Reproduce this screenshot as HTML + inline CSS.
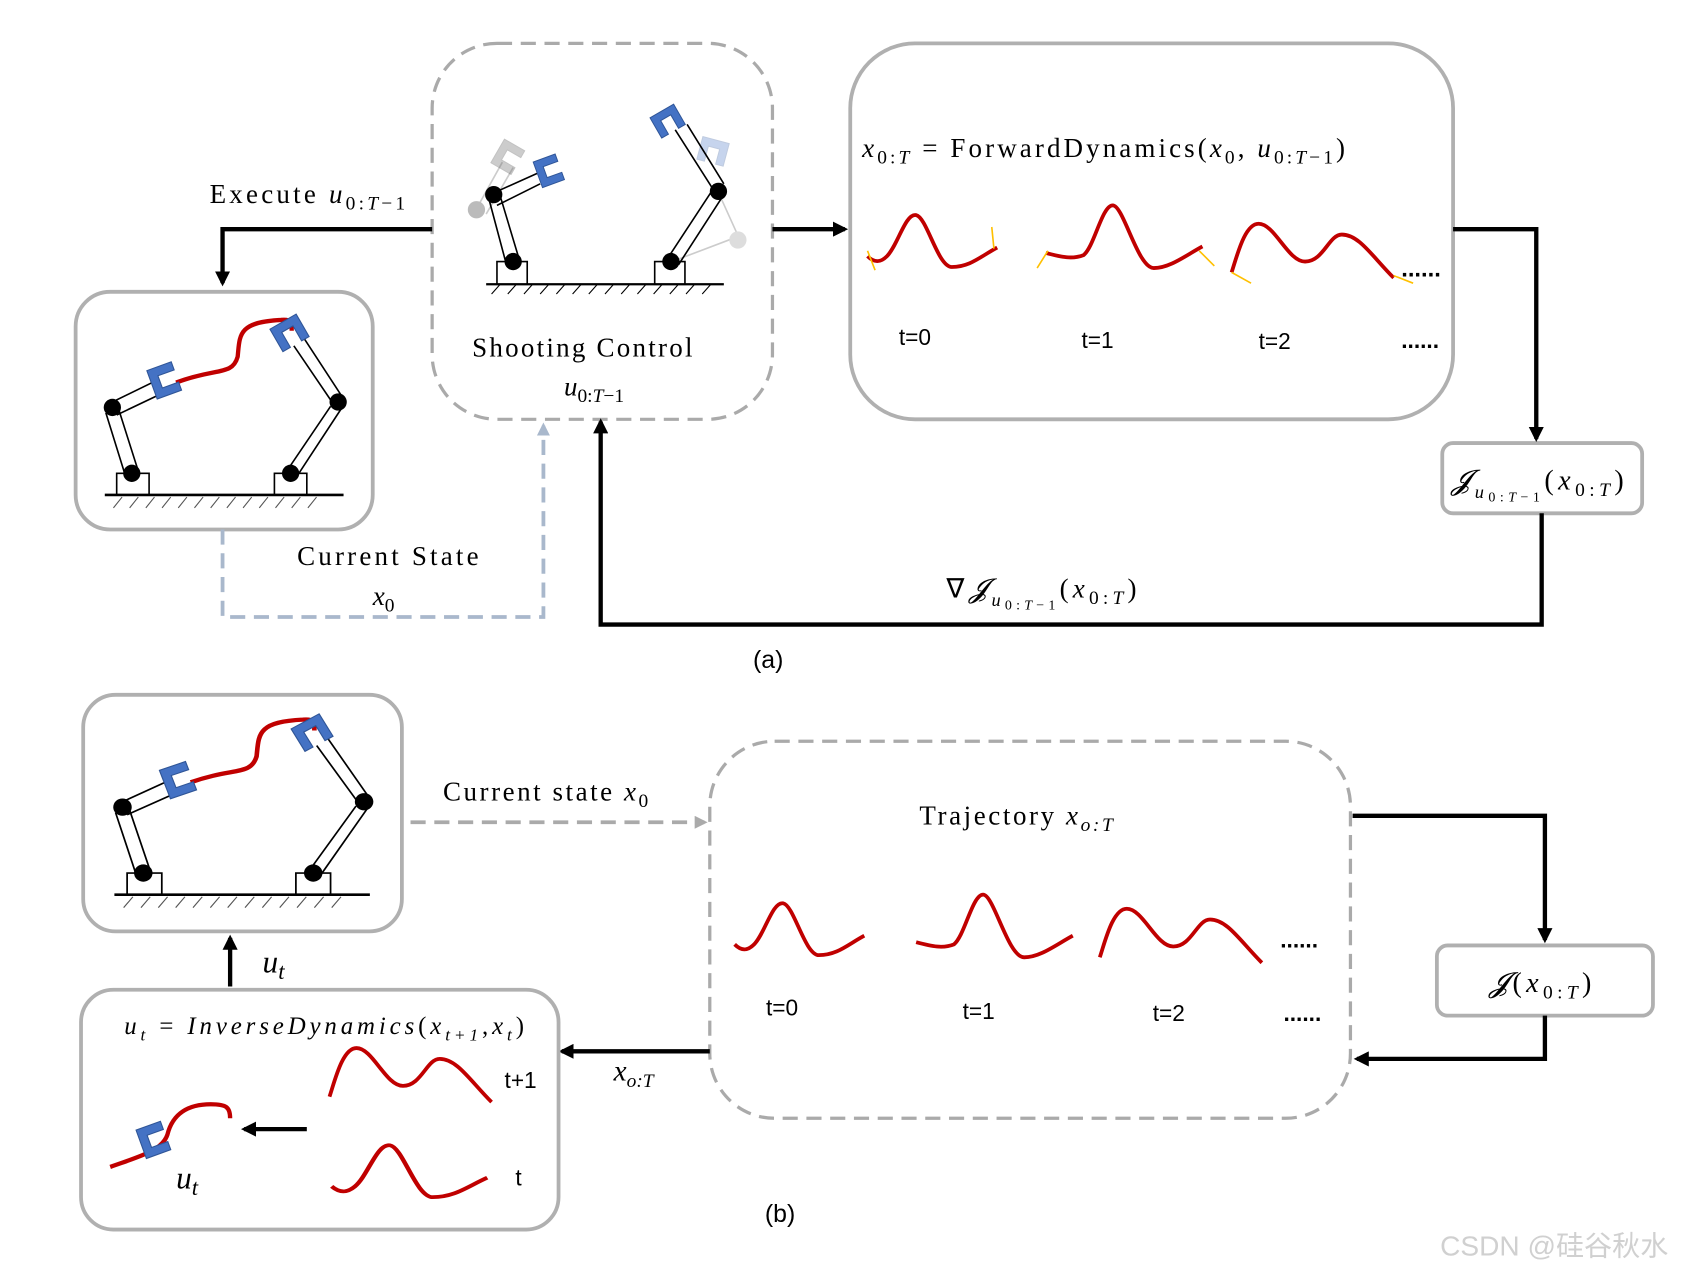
<!DOCTYPE html>
<html><head><meta charset="utf-8"><style>html,body{margin:0;padding:0;background:#fff}svg{display:block}</style></head>
<body>
<svg width="1694" height="1274" viewBox="0 0 1568 1179" xmlns="http://www.w3.org/2000/svg" font-family="Liberation Serif, serif">
<defs>
<marker id="ah" markerWidth="14" markerHeight="14" refX="11" refY="7" orient="auto" markerUnits="userSpaceOnUse"><path d="M0,0 L14,7 L0,14 z" fill="#000"/></marker>
<marker id="ahb" markerWidth="12" markerHeight="12" refX="9" refY="6" orient="auto" markerUnits="userSpaceOnUse"><path d="M0,0 L12,6 L0,12 z" fill="#a9b8cc"/></marker>
<marker id="ahg" markerWidth="12" markerHeight="12" refX="9" refY="6" orient="auto" markerUnits="userSpaceOnUse"><path d="M0,0 L12,6 L0,12 z" fill="#aaa"/></marker>
<g id="grip"><path d="M-14,-12 L14,-12 L14,12 L6,12 L6,-4 L-6,-4 L-6,12 L-14,12 z" fill="#4472c4" stroke="#2f5597" stroke-width="1"/></g>
<g id="scene">
 <line x1="27" y1="188" x2="248" y2="188" stroke="#000" stroke-width="2.5"/>
 <g stroke="#555" stroke-width="1">
  <path d="M35,200 l8,-10 M50,200 l8,-10 M65,200 l8,-10 M80,200 l8,-10 M95,200 l8,-10 M110,200 l8,-10 M125,200 l8,-10 M140,200 l8,-10 M155,200 l8,-10 M170,200 l8,-10 M185,200 l8,-10 M200,200 l8,-10 M215,200 l8,-10"/>
 </g>
 <rect x="38" y="168" width="30" height="20" fill="none" stroke="#000" stroke-width="1.5"/>
 <rect x="184" y="168" width="30" height="20" fill="none" stroke="#000" stroke-width="1.5"/>
 <g stroke="#000" stroke-width="1.5" fill="none">
  <path d="M28,112 L46,170 M39,106 L58,166"/>
  <path d="M34,102 L75,82 M38,114 L80,94"/>
  <path d="M194,168 L236,106 M204,172 L246,108"/>
  <path d="M236,100 L202,50 M246,96 L212,44"/>
 </g>
 <path d="M93,84 C130,70 145,78 150,60 C152,40 150,28 190,26 C200,25 200,28 200,36" fill="none" stroke="#c00000" stroke-width="4"/>
 <use href="#grip" transform="translate(82,82) rotate(-110)"/>
 <use href="#grip" transform="translate(198,38) rotate(-30)"/>
 <circle cx="34" cy="107" r="8" fill="#000"/>
 <circle cx="52" cy="168" r="8" fill="#000"/>
 <circle cx="199" cy="168" r="8" fill="#000"/>
 <circle cx="243" cy="102" r="8" fill="#000"/>
</g>
<path id="w0" d="M0,10 C8,18 14,14 18,10 C28,0 35,-30 45,-28 C55,-26 65,20 78,20 C95,20 105,10 120,2" fill="none" stroke="#c00000" stroke-width="3.5"/>
<path id="w1" d="M0,6 C15,10 25,12 35,8 C45,0 52,-38 62,-38 C72,-38 85,20 100,20 C115,20 130,8 145,0" fill="none" stroke="#c00000" stroke-width="3.5"/>
<path id="w2" d="M0,20 C5,5 12,-25 25,-25 C40,-25 52,10 68,10 C85,10 90,-15 102,-15 C118,-15 130,5 150,25" fill="none" stroke="#c00000" stroke-width="3.5"/>
</defs>

<!-- (a) -->
<rect x="70" y="270" width="275" height="220" rx="32" fill="none" stroke="#b0b0b0" stroke-width="3.5"/>
<use href="#scene" transform="translate(70,270)"/>

<rect x="400" y="40" width="315" height="348" rx="60" fill="none" stroke="#aaa" stroke-width="3" stroke-dasharray="14,8"/>
<g stroke="#000" stroke-width="2">
 <line x1="450" y1="263" x2="670" y2="263"/>
 <path d="M455,272 l8,-9 M470,272 l8,-9 M485,272 l8,-9 M500,272 l8,-9 M515,272 l8,-9 M530,272 l8,-9 M545,272 l8,-9 M560,272 l8,-9 M575,272 l8,-9 M590,272 l8,-9 M605,272 l8,-9 M620,272 l8,-9 M635,272 l8,-9 M650,272 l8,-9" stroke-width="1"/>
 <rect x="460" y="242" width="28" height="21" fill="none" stroke-width="1.5"/>
 <rect x="606" y="242" width="28" height="21" fill="none" stroke-width="1.5"/>
</g>
<g stroke="#ccc" stroke-width="1.5" fill="none"><path d="M440,195 L465,150 M450,198 L475,155 M622,242 L680,220 M665,178 L684,220"/></g>
<circle cx="441" cy="194" r="8" fill="#bbb"/><circle cx="683" cy="222" r="8" fill="#ddd"/>
<use href="#grip" transform="translate(470,145) rotate(-60) scale(0.9)" opacity="0.35" style="filter:grayscale(1)"/>
<use href="#grip" transform="translate(660,140) rotate(15) scale(0.9)" opacity="0.3"/>
<g stroke="#000" stroke-width="1.5" fill="none">
 <path d="M452,182 L468,242 M462,178 L480,238 M458,178 L498,160 M460,190 L500,170"/>
 <path d="M616,242 L660,175 M628,245 L670,180 M660,175 L625,120 M670,170 L636,115"/>
</g>
<use href="#grip" transform="translate(508,158) rotate(-110) scale(0.9)"/>
<use href="#grip" transform="translate(618,112) rotate(-30) scale(0.9)"/>
<circle cx="457" cy="180" r="8" fill="#000"/><circle cx="475" cy="242" r="8" fill="#000"/>
<circle cx="621" cy="242" r="8" fill="#000"/><circle cx="665" cy="177" r="8" fill="#000"/>
<text x="437" y="330" font-size="25" textLength="204" lengthAdjust="spacing">Shooting  Control</text>
<text x="522" y="366" font-size="25" font-style="italic">u<tspan font-size="18" dy="6" font-style="normal">0:</tspan><tspan font-size="18" font-style="italic">T</tspan><tspan font-size="18" font-style="normal">−1</tspan></text>

<rect x="787" y="40" width="558" height="348" rx="60" fill="none" stroke="#b0b0b0" stroke-width="3.5"/>
<text x="798" y="145" font-size="25" textLength="447" lengthAdjust="spacing"><tspan font-style="italic">x</tspan><tspan font-size="18" dy="6">0:</tspan><tspan font-size="18" font-style="italic">T</tspan><tspan dy="-6"> = ForwardDynamics(</tspan><tspan font-style="italic">x</tspan><tspan font-size="18" dy="6">0</tspan><tspan dy="-6">, </tspan><tspan font-style="italic">u</tspan><tspan font-size="18" dy="6">0:</tspan><tspan font-size="18" font-style="italic">T</tspan><tspan font-size="18">−1</tspan><tspan dy="-6">)</tspan></text>
<use href="#w0" transform="translate(803,227)"/>
<use href="#w1" transform="translate(968,228)"/>
<use href="#w2" transform="translate(1140,232)"/>
<g stroke="#ffc000" stroke-width="1.5" fill="#ffc000">
 <path d="M803,232 L810,250"/><path d="M920,230 L918,210"/><path d="M970,232 L960,248"/><path d="M1110,232 L1124,246"/><path d="M1140,252 L1158,262"/><path d="M1290,255 L1308,262"/>
</g>
<text x="1297" y="256" font-size="22" font-family="Liberation Sans, sans-serif" font-weight="bold">......</text>
<g font-family="Liberation Sans, sans-serif" font-size="21">
<text x="832" y="319">t=0</text><text x="1001" y="322">t=1</text><text x="1165" y="323">t=2</text>
<text x="1297" y="322" font-weight="bold">......</text>
</g>

<rect x="1335" y="410" width="185" height="65" rx="10" fill="none" stroke="#b0b0b0" stroke-width="3.5"/>
<text x="1343" y="453" font-size="26" font-style="italic" textLength="160" lengthAdjust="spacing">𝓙<tspan font-size="17" dy="8">u</tspan><tspan font-size="13" dy="3" font-style="normal">0:</tspan><tspan font-size="13">T</tspan><tspan font-size="13" font-style="normal">−1</tspan><tspan dy="-11" font-style="normal">(</tspan>x<tspan font-size="18" dy="6" font-style="normal">0:</tspan><tspan font-size="18">T</tspan><tspan dy="-6" font-style="normal">)</tspan></text>

<g stroke="#000" stroke-width="4" fill="none">
 <path d="M400,212 L206,212 L206,262" marker-end="url(#ah)"/>
 <path d="M715,212 L782,212" marker-end="url(#ah)"/>
 <path d="M1345,212 L1422,212 L1422,406" marker-end="url(#ah)"/>
 <path d="M1427,475 L1427,578 L556,578 L556,390" marker-end="url(#ah)"/>
</g>
<path d="M206,490 L206,571 L503,571 L503,394" fill="none" stroke="#a9b8cc" stroke-width="3.5" stroke-dasharray="14,8" marker-end="url(#ahb)"/>
<text x="194" y="188" font-size="25" textLength="181" lengthAdjust="spacing">Execute <tspan font-style="italic">u</tspan><tspan font-size="18" dy="6">0:</tspan><tspan font-size="18" font-style="italic">T</tspan><tspan font-size="18">−1</tspan></text>
<text x="275" y="523" font-size="25" textLength="168" lengthAdjust="spacing">Current State</text>
<text x="345" y="560" font-size="25" font-style="italic">x<tspan font-size="18" dy="6" font-style="normal">0</tspan></text>
<text x="876" y="553" font-size="25" textLength="176" lengthAdjust="spacing">∇<tspan font-style="italic">𝓙</tspan><tspan font-size="17" dy="8" font-style="italic">u</tspan><tspan font-size="13" dy="3">0:</tspan><tspan font-size="13" font-style="italic">T</tspan><tspan font-size="13">−1</tspan><tspan dy="-11">(</tspan><tspan font-style="italic">x</tspan><tspan font-size="18" dy="6">0:</tspan><tspan font-size="18" font-style="italic">T</tspan><tspan dy="-6">)</tspan></text>
<text x="697" y="618" font-size="23" font-family="Liberation Sans, sans-serif">(a)</text>

<!-- (b) -->
<rect x="77" y="643" width="295" height="219" rx="30" fill="none" stroke="#b0b0b0" stroke-width="3.5"/>
<use href="#scene" transform="translate(77,640) scale(1.07,1.0)"/>
<path d="M380,761 L652,761" fill="none" stroke="#aaa" stroke-width="3.5" stroke-dasharray="14,8" marker-end="url(#ahg)"/>
<text x="410" y="741" font-size="25" textLength="190" lengthAdjust="spacing">Current state <tspan font-style="italic">x</tspan><tspan font-size="18" dy="6">0</tspan></text>

<rect x="657" y="686" width="593" height="349" rx="60" fill="none" stroke="#aaa" stroke-width="3" stroke-dasharray="14,8"/>
<text x="851" y="763" font-size="25" textLength="179" lengthAdjust="spacing">Trajectory <tspan font-style="italic">x</tspan><tspan font-size="18" dy="6" font-style="italic">o:T</tspan></text>
<use href="#w0" transform="translate(680,864)"/>
<use href="#w1" transform="translate(848,866)"/>
<use href="#w2" transform="translate(1018,866)"/>
<g font-family="Liberation Sans, sans-serif" font-size="21">
<text x="1185" y="877" font-weight="bold">......</text>
<text x="709" y="940">t=0</text><text x="891" y="943">t=1</text><text x="1067" y="945">t=2</text>
<text x="1188" y="945" font-weight="bold">......</text>
</g>
<rect x="1330" y="875" width="200" height="65" rx="10" fill="none" stroke="#b0b0b0" stroke-width="3.5"/>
<text x="1378" y="918" font-size="26" textLength="95" lengthAdjust="spacing"><tspan font-style="italic">𝓙</tspan>(<tspan font-style="italic">x</tspan><tspan font-size="18" dy="6">0:</tspan><tspan font-size="18" font-style="italic">T</tspan><tspan dy="-6">)</tspan></text>
<g stroke="#000" stroke-width="4" fill="none">
 <path d="M1252,755 L1430,755 L1430,870" marker-end="url(#ah)"/>
 <path d="M1430,940 L1430,980 L1256,980" marker-end="url(#ah)"/>
 <path d="M657,973 L520,973" marker-end="url(#ah)"/>
 <path d="M213,913 L213,868" marker-end="url(#ah)"/>
 <path d="M284,1045 L226,1045" marker-end="url(#ah)"/>
</g>
<text x="568" y="1000" font-size="27" font-style="italic">x<tspan font-size="18" dy="6">o:T</tspan></text>
<text x="243" y="900" font-size="29" font-style="italic">u<tspan font-size="21" dy="6">t</tspan></text>

<rect x="75" y="916" width="442" height="222" rx="30" fill="none" stroke="#b0b0b0" stroke-width="3.5"/>
<text x="115" y="957" font-size="23" font-style="italic" textLength="370" lengthAdjust="spacing">u<tspan font-size="16" dy="6">t</tspan><tspan dy="-6" font-style="normal"> = </tspan>InverseDynamics<tspan font-style="normal">(</tspan>x<tspan font-size="16" dy="6">t+1</tspan><tspan dy="-6" font-style="normal">,</tspan>x<tspan font-size="16" dy="6">t</tspan><tspan dy="-6" font-style="normal">)</tspan></text>
<use href="#w2" transform="translate(305,995)"/>
<use href="#w0" transform="translate(307,1088) scale(1.2,1)"/>
<text x="467" y="1007" font-size="21" font-family="Liberation Sans, sans-serif">t+1</text>
<text x="477" y="1097" font-size="21" font-family="Liberation Sans, sans-serif">t</text>
<path d="M102,1080 C130,1070 150,1065 155,1050 C160,1030 175,1022 195,1022 C210,1022 213,1025 213,1035" fill="none" stroke="#c00000" stroke-width="4"/>
<use href="#grip" transform="translate(142,1055) rotate(-110)"/>
<text x="163" y="1100" font-size="29" font-style="italic">u<tspan font-size="21" dy="6">t</tspan></text>
<text x="708" y="1131" font-size="23" font-family="Liberation Sans, sans-serif">(b)</text>
<text x="1333" y="1162" font-size="26" fill="#d0d0d0" font-family="Liberation Sans, 'Noto Sans CJK SC', sans-serif">CSDN @硅谷秋水</text>
</svg>
</body></html>
